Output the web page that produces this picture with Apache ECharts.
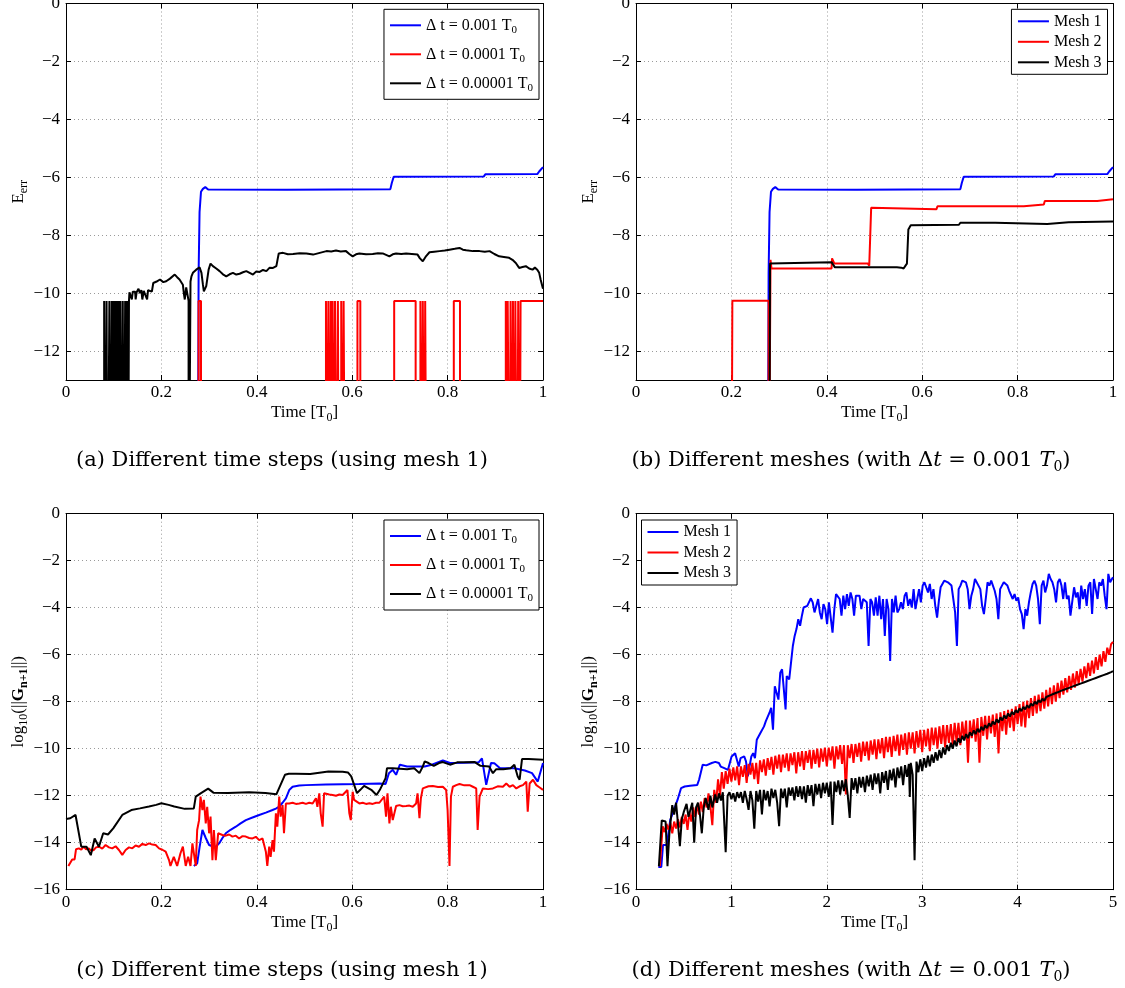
<!DOCTYPE html>
<html>
<head>
<meta charset="utf-8">
<script src="https://cdn.jsdelivr.net/npm/echarts@6/dist/echarts.min.js"></script>
<style>
  html, body { margin: 0; padding: 0; background: #fff; }
  #chart { width: 1125px; height: 988px; }
</style>
</head>
<body>
<div id="chart"></div>
<script>
// ---------- tick values ----------
const timeTicksShort = [0, 0.2, 0.4, 0.6, 0.8, 1];
const timeTicksLong = [0, 1, 2, 3, 4, 5];
const errTicks = [0, -2, -4, -6, -8, -10, -12];
const residualTicks = [0, -2, -4, -6, -8, -10, -12, -14, -16];

// ---------- legend entries and captions ----------
const stepLabels = ['Δ t = 0.001 T0', 'Δ t = 0.0001 T0', 'Δ t = 0.00001 T0'];
const meshLabels = ['Mesh 1', 'Mesh 2', 'Mesh 3'];
const captions = [
  '(a) Different time steps (using mesh 1)',
  '(b) Different meshes (with Δ{it|t} = 0.001 {it|T}{sub|0})',
  '(c) Different time steps (using mesh 1)',
  '(d) Different meshes (with Δ{it|t} = 0.001 {it|T}{sub|0})'
];

// ---------- (a) energy error, mesh 1, three time steps ----------
// -20 stands for an error below the plotted floor (log of zero)
const errStep001 = [[0,-20],[0.276,-20],[0.278,-9.3],[0.28,-7.2],[0.283,-6.5],[0.287,-6.4],[0.292,-6.34],[0.298,-6.42],[0.463,-6.43],[0.466,-6.41],[0.68,-6.41],[0.683,-6.2],[0.687,-5.98],[0.876,-5.97],[0.879,-5.9],[0.988,-5.89],[0.992,-5.8],[0.996,-5.78],[1.0,-5.65]];

const errStep0001 = [[0,-20],[0.278,-20],[0.278,-10.27],[0.283,-10.27],[0.283,-20],
  [0.545,-20],[0.545,-10.27],[0.548,-10.27],[0.548,-20],[0.550,-20],[0.550,-10.27],[0.553,-10.27],[0.553,-20],
  [0.555,-20],[0.555,-10.27],[0.557,-10.27],[0.557,-20],[0.559,-20],[0.559,-10.27],[0.562,-10.27],[0.562,-20],
  [0.564,-20],[0.564,-10.27],[0.568,-10.27],[0.568,-20],[0.570,-20],[0.570,-10.27],[0.572,-10.27],[0.572,-20],
  [0.577,-20],[0.577,-10.27],[0.580,-10.27],[0.580,-20],[0.582,-20],[0.582,-10.27],[0.585,-10.27],[0.585,-20],
  [0.611,-20],[0.611,-10.27],[0.617,-10.27],[0.617,-20],
  [0.688,-20],[0.688,-10.27],[0.733,-10.27],[0.733,-20],
  [0.743,-20],[0.743,-10.27],[0.746,-10.27],[0.746,-20],[0.748,-20],[0.748,-10.27],[0.751,-10.27],[0.751,-20],
  [0.753,-20],[0.753,-10.27],[0.756,-10.27],[0.756,-20],
  [0.813,-20],[0.813,-10.27],[0.826,-10.27],[0.826,-20],
  [0.922,-20],[0.922,-10.27],[0.924,-10.27],[0.924,-20],[0.926,-20],[0.926,-10.27],[0.930,-10.27],[0.930,-20],
  [0.932,-20],[0.932,-10.27],[0.935,-10.27],[0.935,-20],[0.937,-20],[0.937,-10.27],[0.940,-10.27],[0.940,-20],
  [0.942,-20],[0.942,-10.27],[0.946,-10.27],[0.946,-20],[0.948,-20],[0.948,-10.27],[0.951,-10.27],[0.951,-20],
  [0.953,-20],[0.953,-10.27],[1.0,-10.27]];

const errStep00001 = [[0,-20],[0.080,-20],[0.080,-10.27],[0.082,-10.27],[0.082,-20],[0.085,-20],[0.085,-10.27],[0.087,-10.27],[0.087,-20],
  [0.091,-20],[0.091,-10.27],[0.093,-10.27],[0.093,-20],[0.096,-20],[0.096,-10.27],[0.098,-10.27],[0.098,-20],
  [0.100,-20],[0.100,-10.27],[0.102,-10.27],[0.102,-20],[0.103,-20],[0.103,-10.27],[0.105,-10.27],[0.105,-20],
  [0.107,-20],[0.107,-10.27],[0.109,-10.27],[0.109,-20],[0.110,-20],[0.110,-10.27],[0.112,-10.27],[0.112,-20],
  [0.114,-20],[0.114,-10.27],[0.116,-10.27],[0.116,-20],[0.119,-20],[0.119,-10.27],[0.121,-10.27],[0.121,-20],
  [0.124,-20],[0.124,-10.27],[0.126,-10.27],[0.126,-20],[0.128,-20],[0.128,-10.27],[0.130,-10.27],[0.130,-20],
  [0.132,-20],[0.132,-10.27],[0.133,-9.97],[0.137,-9.97],[0.138,-10.22],[0.140,-9.95],[0.145,-9.95],[0.146,-10.22],
  [0.148,-9.97],[0.152,-9.85],[0.155,-10.0],[0.158,-9.9],[0.160,-10.22],[0.163,-9.92],[0.167,-9.95],[0.170,-10.22],
  [0.172,-9.9],[0.176,-9.95],[0.180,-9.95],[0.183,-9.65],[0.190,-9.6],[0.197,-9.53],[0.204,-9.62],[0.210,-9.59],
  [0.218,-9.5],[0.228,-9.36],[0.233,-9.45],[0.238,-9.53],[0.245,-9.71],[0.247,-10.0],[0.249,-10.22],[0.252,-9.8],
  [0.256,-9.76],[0.257,-10.27],[0.257,-20],[0.261,-20],[0.261,-9.6],[0.263,-9.42],[0.266,-9.30],[0.273,-9.19],
  [0.280,-9.11],[0.284,-9.30],[0.287,-9.7],[0.289,-9.94],[0.294,-9.76],[0.299,-9.19],[0.303,-8.98],[0.308,-9.07],
  [0.315,-9.15],[0.322,-9.24],[0.329,-9.35],[0.336,-9.42],[0.343,-9.35],[0.350,-9.30],[0.357,-9.36],[0.364,-9.33],
  [0.371,-9.28],[0.378,-9.24],[0.385,-9.3],[0.392,-9.36],[0.399,-9.25],[0.406,-9.27],[0.413,-9.2],[0.420,-9.24],
  [0.427,-9.12],[0.434,-9.13],[0.441,-9.07],[0.444,-8.8],[0.446,-8.63],[0.455,-8.61],[0.465,-8.66],[0.476,-8.65],
  [0.490,-8.62],[0.504,-8.63],[0.518,-8.67],[0.532,-8.61],[0.546,-8.55],[0.556,-8.56],[0.566,-8.53],[0.576,-8.56],
  [0.587,-8.55],[0.594,-8.65],[0.601,-8.73],[0.608,-8.66],[0.615,-8.63],[0.629,-8.66],[0.643,-8.65],[0.654,-8.62],
  [0.664,-8.63],[0.671,-8.68],[0.678,-8.73],[0.685,-8.66],[0.692,-8.63],[0.703,-8.65],[0.713,-8.63],[0.725,-8.65],
  [0.737,-8.67],[0.742,-8.8],[0.748,-8.90],[0.755,-8.72],[0.762,-8.59],[0.772,-8.57],[0.783,-8.55],[0.794,-8.53],
  [0.804,-8.50],[0.815,-8.47],[0.825,-8.44],[0.832,-8.5],[0.839,-8.52],[0.853,-8.55],[0.867,-8.55],[0.878,-8.57],
  [0.888,-8.55],[0.898,-8.65],[0.908,-8.73],[0.918,-8.75],[0.929,-8.78],[0.936,-8.85],[0.943,-8.96],[0.950,-9.13],
  [0.957,-9.1],[0.964,-9.07],[0.971,-9.15],[0.978,-9.19],[0.983,-9.12],[0.988,-9.19],[0.992,-9.3],[0.995,-9.53],
  [0.999,-9.79],[1.0,-9.85]];

// ---------- (b) energy error, Δt = 0.001 T0, three meshes ----------
// mesh 1 at Δt = 0.001 T0 is the same run as the blue curve of (a)
const errMesh1 = errStep001;
const errMesh2 = [[0,-20],[0.2,-20],[0.202,-10.26],[0.278,-10.26],[0.278,-20],[0.281,-20],[0.282,-8.85],[0.284,-9.15],
  [0.41,-9.15],[0.411,-8.8],[0.414,-8.8],[0.416,-8.98],[0.486,-8.98],[0.489,-9.05],[0.491,-9.05],[0.493,-7.05],
  [0.497,-7.1],[0.63,-7.1],[0.632,-7.0],[0.813,-7.0],[0.815,-6.94],[0.855,-6.94],[0.857,-6.82],[0.967,-6.82],
  [0.969,-6.76],[1.0,-6.76]];
const errMesh3 = [[0,-20],[0.279,-20],[0.281,-8.98],[0.41,-8.93],[0.413,-8.98],[0.417,-9.11],[0.547,-9.11],[0.556,-9.12],
  [0.561,-9.15],[0.565,-9.05],[0.568,-8.98],[0.571,-7.8],[0.576,-7.66],[0.579,-7.64],[0.677,-7.64],[0.68,-7.57],
  [0.753,-7.57],[0.756,-7.61],[0.862,-7.61],[0.865,-7.55],[0.907,-7.55],[0.91,-7.53],[1.0,-7.53]];

// ---------- (c) residual norm, mesh 1, three time steps ----------
const resStep001 = [[0.268,-14.99],[0.275,-14.88],[0.280,-14.2],[0.286,-13.46],[0.293,-13.8],[0.300,-14.10],[0.307,-14.15],
  [0.314,-14.17],[0.321,-14.03],[0.328,-13.8],[0.335,-13.60],[0.345,-13.45],[0.356,-13.32],[0.366,-13.18],[0.377,-13.04],
  [0.391,-12.93],[0.405,-12.82],[0.419,-12.72],[0.433,-12.61],[0.440,-12.55],[0.447,-12.47],[0.454,-12.3],[0.461,-12.11],
  [0.468,-11.76],[0.475,-11.62],[0.489,-11.57],[0.503,-11.55],[0.545,-11.52],[0.580,-11.51],[0.615,-11.50],[0.657,-11.48],
  [0.670,-11.50],[0.677,-11.04],[0.685,-10.90],[0.692,-11.11],[0.700,-10.68],[0.715,-10.76],[0.752,-10.76],[0.767,-10.68],
  [0.790,-10.50],[0.805,-10.61],[0.835,-10.6],[0.865,-10.58],[0.872,-10.41],[0.881,-11.54],[0.891,-10.61],[0.898,-10.62],
  [0.910,-10.83],[0.940,-10.83],[0.962,-10.93],[0.977,-11.04],[0.989,-11.40],[1.0,-10.61]];

const resStep0001 = [[0.005,-14.99],[0.013,-14.71],[0.018,-14.71],[0.021,-14.28],[0.027,-14.24],[0.032,-14.3],[0.037,-14.17],
  [0.042,-14.28],[0.048,-14.24],[0.053,-14.35],[0.058,-14.31],[0.063,-14.2],[0.069,-14.17],[0.076,-14.25],[0.083,-14.10],
  [0.090,-14.2],[0.097,-14.24],[0.104,-14.15],[0.111,-14.31],[0.118,-14.52],[0.125,-14.31],[0.132,-14.2],[0.139,-14.24],
  [0.146,-14.12],[0.153,-14.17],[0.160,-14.05],[0.167,-14.10],[0.174,-14.03],[0.181,-14.08],[0.188,-14.10],[0.195,-14.24],
  [0.202,-14.3],[0.209,-14.38],[0.216,-14.74],[0.219,-14.99],[0.226,-14.60],[0.233,-14.99],[0.240,-14.45],[0.245,-14.17],
  [0.251,-14.99],[0.256,-14.60],[0.261,-14.99],[0.265,-14.03],[0.272,-14.99],[0.275,-13.46],[0.279,-13.04],[0.282,-12.04],
  [0.286,-12.61],[0.289,-12.18],[0.293,-13.18],[0.296,-12.47],[0.300,-13.60],[0.303,-12.89],[0.307,-14.74],[0.310,-13.46],
  [0.314,-14.74],[0.319,-13.60],[0.328,-13.67],[0.335,-13.7],[0.342,-13.65],[0.349,-13.74],[0.356,-13.7],[0.363,-13.82],
  [0.370,-13.72],[0.377,-13.74],[0.384,-13.8],[0.391,-13.82],[0.398,-13.75],[0.405,-13.89],[0.412,-13.82],[0.419,-14.38],
  [0.422,-14.99],[0.426,-14.17],[0.429,-14.60],[0.433,-13.89],[0.436,-14.38],[0.440,-12.75],[0.443,-13.32],[0.447,-12.04],
  [0.450,-12.89],[0.454,-12.40],[0.457,-13.60],[0.461,-12.33],[0.468,-12.33],[0.475,-12.3],[0.482,-12.35],[0.489,-12.33],
  [0.496,-12.3],[0.503,-12.35],[0.510,-12.3],[0.517,-12.33],[0.524,-12.11],[0.527,-12.47],[0.531,-11.90],[0.534,-12.75],
  [0.538,-13.32],[0.541,-11.90],[0.545,-11.97],[0.552,-11.95],[0.559,-11.97],[0.566,-12.0],[0.573,-11.95],[0.580,-11.97],
  [0.590,-11.76],[0.594,-12.75],[0.597,-13.04],[0.601,-11.83],[0.604,-12.18],[0.615,-12.33],[0.622,-12.3],[0.629,-12.35],
  [0.636,-12.32],[0.643,-12.35],[0.650,-12.3],[0.657,-12.30],[0.667,-12.04],[0.671,-12.89],[0.674,-11.90],[0.678,-13.18],
  [0.681,-12.47],[0.685,-13.04],[0.692,-12.44],[0.699,-12.4],[0.706,-12.45],[0.713,-12.44],[0.720,-12.42],[0.727,-12.47],
  [0.734,-12.33],[0.737,-11.90],[0.741,-12.96],[0.744,-12.11],[0.748,-11.69],[0.751,-11.62],[0.760,-11.6],[0.769,-11.59],
  [0.780,-11.63],[0.790,-11.62],[0.797,-11.76],[0.800,-12.61],[0.804,-14.99],[0.807,-12.04],[0.811,-11.62],[0.818,-11.55],
  [0.825,-11.50],[0.835,-11.56],[0.846,-11.55],[0.853,-11.62],[0.860,-11.69],[0.863,-13.46],[0.867,-12.04],[0.874,-11.69],
  [0.885,-11.72],[0.895,-11.69],[0.905,-11.6],[0.916,-11.62],[0.923,-11.48],[0.930,-11.62],[0.937,-11.55],[0.944,-11.69],
  [0.951,-11.6],[0.958,-11.55],[0.965,-11.40],[0.968,-12.68],[0.972,-11.48],[0.979,-11.32],[0.986,-11.55],[0.993,-11.65],
  [1.0,-11.75]];

const resStep00001 = [[0,-12.99],[0.009,-12.96],[0.020,-12.82],[0.032,-14.17],[0.043,-14.17],[0.052,-14.53],[0.060,-13.82],
  [0.069,-14.17],[0.078,-13.60],[0.088,-13.65],[0.099,-13.39],[0.118,-12.82],[0.137,-12.61],[0.155,-12.54],[0.174,-12.46],
  [0.189,-12.39],[0.200,-12.32],[0.215,-12.39],[0.227,-12.46],[0.249,-12.56],[0.268,-12.54],[0.272,-12.04],[0.283,-11.89],
  [0.298,-11.70],[0.309,-11.87],[0.339,-11.89],[0.384,-11.85],[0.418,-11.89],[0.441,-11.94],[0.459,-11.11],[0.467,-11.07],
  [0.482,-11.07],[0.512,-11.08],[0.535,-11.01],[0.550,-10.97],[0.580,-10.98],[0.591,-11.01],[0.598,-11.18],[0.610,-11.89],
  [0.617,-11.75],[0.625,-11.58],[0.640,-11.75],[0.651,-11.97],[0.658,-11.75],[0.670,-11.25],[0.673,-10.83],[0.685,-10.83],
  [0.715,-10.87],[0.730,-10.83],[0.741,-11.04],[0.748,-10.76],[0.752,-10.54],[0.760,-10.61],[0.771,-10.73],[0.782,-10.61],
  [0.790,-10.57],[0.805,-10.68],[0.820,-10.58],[0.835,-10.58],[0.857,-10.57],[0.869,-10.73],[0.887,-10.76],[0.895,-11.04],
  [0.902,-10.87],[0.917,-10.87],[0.932,-10.83],[0.940,-10.68],[0.947,-11.18],[0.951,-11.32],[0.956,-10.44],[0.970,-10.44],
  [1.0,-10.47]];

// ---------- (d) residual norm, Δt = 0.001 T0, three meshes ----------
const resMesh1 = [[0.234,-15.03],[0.265,-15.03],[0.283,-14.10],[0.321,-14.10],[0.340,-13.60],[0.359,-13.03],[0.397,-12.61],
  [0.435,-12.18],[0.472,-11.68],[0.510,-11.61],[0.567,-11.58],[0.642,-11.54],[0.661,-11.32],[0.699,-10.68],[0.737,-10.71],
  [0.794,-10.61],[0.831,-10.56],[0.869,-10.61],[0.888,-10.76],[0.926,-10.83],[0.964,-10.90],[1.002,-10.33],[1.039,-10.19],
  [1.058,-10.26],[1.077,-10.76],[1.096,-10.40],[1.134,-10.33],[1.153,-10.54],[1.172,-11.18],[1.190,-10.76],[1.209,-10.33],
  [1.228,-10.19],[1.247,-10.40],[1.266,-9.62],[1.304,-9.33],[1.342,-9.05],[1.361,-8.83],[1.398,-8.48],[1.417,-8.26],
  [1.436,-9.19],[1.455,-7.34],[1.474,-7.27],[1.493,-7.91],[1.512,-6.77],[1.531,-6.62],[1.550,-6.70],[1.568,-8.33],
  [1.580,-6.91],[1.606,-7.05],[1.625,-6.34],[1.644,-5.63],[1.663,-5.20],[1.682,-4.91],[1.701,-4.49],[1.720,-4.77],
  [1.739,-4.34],[1.757,-3.99],[1.795,-3.92],[1.814,-3.85],[1.833,-3.60],[1.852,-3.77],[1.871,-4.20],[1.890,-4.13],
  [1.909,-3.63],[1.927,-4.20],[1.946,-4.49],[1.965,-3.85],[1.984,-4.06],[2.003,-4.70],[2.022,-3.77],[2.041,-3.70],
  [2.060,-5.06],[2.079,-4.06],[2.097,-3.42],[2.116,-3.49],[2.135,-3.63],[2.154,-4.34],[2.173,-3.49],[2.192,-4.06],
  [2.211,-3.42],[2.230,-3.92],[2.249,-3.35],[2.268,-3.63],[2.286,-4.34],[2.305,-3.49],[2.343,-3.49],[2.362,-4.06],
  [2.381,-3.63],[2.400,-3.56],[2.419,-3.77],[2.438,-5.63],[2.457,-3.63],[2.475,-3.77],[2.494,-4.34],[2.513,-3.56],
  [2.532,-4.34],[2.551,-3.49],[2.570,-4.49],[2.589,-3.63],[2.608,-5.20],[2.627,-3.63],[2.646,-4.06],[2.664,-6.27],
  [2.683,-3.63],[2.702,-4.20],[2.721,-3.49],[2.740,-4.20],[2.759,-4.06],[2.778,-3.77],[2.797,-4.06],[2.816,-3.49],
  [2.834,-3.35],[2.853,-3.92],[2.872,-3.63],[2.891,-3.99],[2.910,-3.21],[2.929,-4.06],[2.948,-3.63],[2.967,-3.21],
  [2.986,-3.77],[3.005,-3.06],[3.023,-2.92],[3.042,-3.13],[3.061,-3.35],[3.080,-2.99],[3.099,-3.63],[3.118,-3.21],
  [3.137,-3.92],[3.156,-4.42],[3.175,-3.70],[3.193,-3.13],[3.212,-3.06],[3.231,-2.85],[3.250,-2.78],[3.269,-2.92],
  [3.288,-2.85],[3.307,-3.06],[3.326,-3.63],[3.345,-4.20],[3.364,-5.63],[3.382,-3.21],[3.401,-3.06],[3.420,-2.85],
  [3.439,-2.78],[3.458,-2.92],[3.477,-3.21],[3.496,-4.06],[3.515,-3.49],[3.534,-3.21],[3.553,-2.78],[3.571,-2.85],
  [3.590,-3.06],[3.609,-3.21],[3.628,-3.92],[3.647,-4.27],[3.666,-3.63],[3.685,-2.92],[3.704,-3.06],[3.723,-2.85],
  [3.741,-2.78],[3.760,-3.28],[3.779,-3.63],[3.798,-4.49],[3.817,-3.21],[3.836,-3.06],[3.855,-2.92],[3.874,-2.85],
  [3.893,-3.06],[3.912,-3.28],[3.930,-3.35],[3.949,-3.63],[3.968,-3.42],[3.987,-3.70],[4.006,-3.56],[4.025,-4.06],
  [4.044,-4.27],[4.063,-4.91],[4.082,-4.06],[4.100,-4.34],[4.119,-3.77],[4.138,-3.35],[4.157,-2.99],[4.176,-2.85],
  [4.195,-3.06],[4.214,-3.63],[4.233,-4.70],[4.252,-3.06],[4.271,-2.85],[4.289,-3.35],[4.308,-3.06],[4.327,-2.56],
  [4.346,-2.78],[4.365,-2.92],[4.384,-3.21],[4.403,-3.77],[4.422,-2.92],[4.441,-2.78],[4.460,-3.06],[4.478,-3.63],
  [4.497,-2.92],[4.516,-3.63],[4.535,-3.49],[4.554,-4.34],[4.573,-4.42],[4.592,-3.13],[4.611,-3.56],[4.630,-3.35],
  [4.649,-4.06],[4.667,-3.06],[4.686,-3.63],[4.705,-3.21],[4.724,-3.92],[4.743,-3.06],[4.762,-2.92],[4.781,-4.27],
  [4.800,-2.78],[4.819,-3.21],[4.838,-3.63],[4.856,-2.92],[4.875,-3.06],[4.894,-2.78],[4.913,-3.49],[4.932,-4.06],
  [4.951,-2.56],[4.970,-2.92],[4.989,-2.78],[5.0,-2.7]];

const resMesh2 = [[0.25,-15.0],[0.27,-15.0],[0.28,-13.3],[0.30,-13.55],[0.32,-13.2],[0.34,-13.45],[0.36,-13.15],[0.38,-13.6],
  [0.40,-13.1],[0.42,-13.4],[0.44,-13.0],[0.46,-13.35],[0.48,-12.9],[0.50,-13.2],[0.52,-12.8],[0.54,-13.45],[0.56,-12.7],
  [0.58,-13.1],[0.60,-12.5],[0.62,-12.9],[0.64,-12.4],[0.66,-12.8],[0.68,-12.25],[0.70,-12.7],[0.72,-12.1],[0.74,-12.5],
  [0.76,-11.9],[0.78,-12.45],[0.80,-13.25],[0.82,-11.75],[0.84,-12.3],[0.86,-11.3],[0.88,-12.0],
  [0.90,-11.0],[0.92,-11.7],[0.94,-10.95],[0.96,-11.5],[0.98,-10.85],[1.00,-11.4],[1.02,-10.8],[1.04,-11.35],[1.06,-10.75],
  [1.08,-11.55],[1.10,-10.75],[1.12,-11.2],[1.14,-10.7],[1.16,-11.45],[1.18,-10.65],[1.20,-11.1],[1.22,-10.6],[1.24,-11.3],
  [1.26,-10.6],[1.28,-11.5],[1.30,-10.5],[1.32,-11.0],[1.34,-10.45],[1.36,-11.15],[1.38,-10.4],[1.40,-10.9],[1.42,-10.35],
  [1.44,-11.1],[1.46,-10.3],[1.48,-10.85],[1.50,-10.25],[1.52,-11.0],[1.54,-10.25],[1.56,-10.8],[1.58,-10.2],[1.60,-10.95],
  [1.62,-10.2],[1.64,-10.7],[1.66,-10.15],[1.68,-11.05],[1.70,-10.15],[1.72,-10.75],[1.74,-10.1],[1.76,-10.9],[1.78,-10.1],
  [1.80,-10.6],[1.82,-10.05],[1.84,-10.85],[1.86,-10.05],[1.88,-10.65],[1.90,-10.0],[1.92,-10.8],[1.94,-10.0],[1.96,-10.55],
  [1.98,-9.95],[2.00,-10.75],[2.02,-9.95],[2.04,-10.5],[2.06,-9.9],[2.08,-10.85],[2.10,-9.9],[2.12,-10.45],[2.14,-9.85],
  [2.16,-10.65],[2.18,-9.85],[2.20,-11.95],[2.22,-9.85],[2.24,-10.4],[2.26,-9.8],[2.28,-10.6],[2.30,-9.8],[2.32,-10.35],
  [2.34,-9.75],[2.36,-10.55],[2.38,-9.7],[2.40,-10.3],[2.42,-9.7],[2.44,-10.5],[2.46,-9.65],[2.48,-10.25],[2.50,-9.6],
  [2.52,-10.45],[2.54,-9.6],[2.56,-10.2],[2.58,-9.55],[2.60,-10.4],[2.62,-9.5],[2.64,-10.15],[2.66,-9.5],[2.68,-10.35],
  [2.70,-9.45],[2.72,-10.1],[2.74,-9.4],[2.76,-10.3],[2.78,-9.4],[2.80,-10.05],[2.82,-9.35],[2.84,-10.25],[2.86,-9.3],
  [2.88,-10.0],[2.90,-9.3],[2.92,-10.2],[2.94,-9.25],[2.96,-9.95],[2.98,-9.2],[3.00,-10.15],[3.02,-9.2],[3.04,-9.9],
  [3.06,-9.15],[3.08,-10.1],[3.10,-9.1],[3.12,-9.85],[3.14,-9.1],[3.16,-10.0],[3.18,-9.05],[3.20,-9.8],[3.22,-9.0],
  [3.24,-9.95],[3.26,-9.0],[3.28,-9.75],[3.30,-8.95],[3.32,-9.9],[3.34,-8.9],[3.36,-9.7],[3.38,-8.9],[3.40,-9.85],
  [3.42,-8.85],[3.44,-9.6],[3.46,-8.8],[3.48,-10.6],[3.50,-8.8],[3.52,-9.55],[3.54,-8.75],[3.56,-9.7],[3.58,-8.7],
  [3.60,-10.6],[3.62,-8.65],[3.64,-9.45],[3.66,-8.6],[3.68,-9.6],[3.70,-8.6],[3.72,-9.35],[3.74,-8.55],[3.76,-9.5],
  [3.78,-8.5],[3.80,-10.2],[3.82,-8.45],[3.84,-9.25],[3.86,-8.4],[3.88,-9.4],[3.90,-8.35],[3.92,-9.1],[3.94,-8.3],
  [3.96,-9.25],[3.98,-8.2],[4.00,-8.95],[4.02,-8.1],[4.04,-9.05],[4.06,-8.0],[4.08,-9.1],[4.10,-7.95],[4.12,-8.7],
  [4.14,-7.85],[4.16,-8.6],[4.18,-7.75],[4.20,-8.5],[4.22,-7.7],[4.24,-8.4],[4.26,-7.6],[4.28,-8.3],[4.30,-7.5],
  [4.32,-8.2],[4.34,-7.4],[4.36,-8.1],[4.38,-7.3],[4.40,-8.0],[4.42,-7.2],[4.44,-7.85],[4.46,-7.1],[4.48,-7.7],
  [4.50,-7.0],[4.52,-7.6],[4.54,-6.9],[4.56,-7.5],[4.58,-6.8],[4.60,-7.4],[4.62,-6.7],[4.64,-7.25],[4.66,-6.6],
  [4.68,-7.15],[4.70,-6.5],[4.72,-7.0],[4.74,-6.35],[4.76,-6.9],[4.78,-6.25],[4.80,-6.8],[4.82,-6.1],[4.84,-6.65],
  [4.86,-6.0],[4.88,-6.5],[4.90,-5.85],[4.92,-6.3],[4.94,-5.7],[4.96,-6.0],[4.98,-5.55],[5.00,-5.45]];

const resMesh3 = [[0.24,-15.0],[0.26,-15.0],[0.27,-13.05],[0.29,-13.0],[0.31,-13.1],[0.33,-15.0],[0.35,-13.6],[0.38,-12.4],
  [0.40,-12.8],[0.42,-12.3],[0.44,-13.2],[0.46,-14.15],[0.48,-13.0],[0.50,-12.7],[0.53,-12.35],[0.55,-12.9],[0.57,-12.6],
  [0.59,-12.3],[0.61,-14.0],[0.63,-12.5],[0.65,-12.3],[0.67,-12.8],[0.69,-13.6],[0.71,-12.5],[0.73,-12.1],[0.76,-12.6],
  [0.78,-12.0],[0.80,-12.5],[0.83,-11.95],[0.85,-12.3],[0.87,-11.9],[0.89,-12.2],[0.91,-11.85],[0.94,-14.4],
  [0.96,-12.0],[0.98,-11.85],[1.00,-12.15],[1.02,-11.9],[1.04,-12.25],[1.06,-11.85],[1.08,-12.1],[1.10,-11.85],[1.12,-12.3],
  [1.14,-11.8],[1.16,-12.15],[1.18,-12.6],[1.20,-11.8],[1.22,-12.2],[1.24,-13.4],[1.26,-11.8],[1.28,-12.25],[1.30,-11.75],
  [1.32,-12.8],[1.34,-11.75],[1.36,-12.2],[1.38,-11.8],[1.40,-12.45],[1.42,-11.7],[1.44,-12.1],[1.46,-11.75],[1.48,-12.3],
  [1.50,-13.3],[1.52,-11.7],[1.54,-12.1],[1.56,-11.7],[1.58,-12.5],[1.60,-11.65],[1.62,-12.0],[1.64,-11.65],[1.66,-12.2],
  [1.68,-11.6],[1.70,-12.05],[1.72,-11.6],[1.74,-12.15],[1.76,-11.6],[1.78,-12.3],[1.80,-11.55],[1.82,-12.0],[1.84,-11.55],
  [1.86,-12.45],[1.88,-11.5],[1.90,-11.95],[1.92,-11.5],[1.94,-12.1],[1.96,-11.45],[1.98,-11.9],[2.00,-11.45],[2.02,-12.05],
  [2.04,-11.4],[2.06,-13.25],[2.08,-11.4],[2.10,-11.85],[2.12,-11.35],[2.14,-11.95],[2.16,-11.35],[2.18,-11.8],[2.20,-11.3],
  [2.22,-12.0],[2.24,-12.95],[2.26,-11.25],[2.28,-11.75],[2.30,-11.25],[2.32,-11.9],[2.34,-11.2],[2.36,-11.65],[2.38,-11.2],
  [2.40,-11.85],[2.42,-11.15],[2.44,-11.6],[2.46,-11.1],[2.48,-11.75],[2.50,-11.05],[2.52,-11.5],[2.54,-11.05],[2.56,-11.9],
  [2.58,-11.0],[2.60,-11.45],[2.62,-10.95],[2.64,-11.75],[2.66,-10.9],[2.68,-11.35],[2.70,-10.85],[2.72,-11.65],[2.74,-10.8],
  [2.76,-11.25],[2.78,-10.75],[2.80,-11.55],[2.82,-10.7],[2.84,-11.2],[2.86,-10.65],[2.87,-12.05],[2.88,-10.6],[2.90,-11.1],
  [2.92,-14.75],[2.94,-10.55],[2.96,-11.0],[2.98,-10.45],[3.00,-10.95],[3.02,-10.4],[3.04,-10.8],[3.06,-10.3],[3.08,-10.75],
  [3.10,-10.25],[3.12,-10.6],[3.14,-10.15],[3.16,-10.5],[3.18,-10.05],[3.20,-10.4],[3.22,-9.95],[3.24,-10.25],[3.26,-9.85],
  [3.28,-10.1],[3.30,-9.75],[3.32,-10.0],[3.34,-9.65],[3.36,-9.9],[3.38,-9.55],[3.40,-9.75],[3.42,-9.45],[3.44,-9.65],
  [3.46,-9.38],[3.48,-9.55],[3.50,-9.3],[3.52,-9.45],[3.54,-9.22],[3.56,-9.38],[3.58,-9.15],[3.60,-9.3],[3.62,-9.07],
  [3.64,-9.22],[3.66,-9.0],[3.68,-9.13],[3.70,-8.92],[3.72,-9.05],[3.74,-8.84],[3.76,-8.97],[3.78,-8.75],[3.80,-8.9],
  [3.82,-8.66],[3.84,-8.8],[3.86,-8.58],[3.88,-8.72],[3.90,-8.5],[3.92,-8.63],[3.94,-8.43],[3.96,-8.55],[3.98,-8.36],
  [4.00,-8.47],[4.02,-8.28],[4.04,-8.4],[4.06,-8.22],[4.08,-8.33],[4.10,-8.15],[4.12,-8.26],[4.14,-8.08],[4.16,-8.18],
  [4.18,-8.0],[4.20,-8.1],[4.22,-7.94],[4.24,-8.03],[4.26,-7.87],[4.28,-7.96],[4.30,-7.8],[4.32,-7.88],[4.34,-7.73],
  [4.36,-7.8],[4.38,-7.66],[4.40,-7.73],[4.42,-7.6],[4.44,-7.66],[4.46,-7.53],[4.48,-7.59],[4.50,-7.47],[4.52,-7.53],
  [4.54,-7.41],[4.56,-7.46],[4.58,-7.35],[4.60,-7.4],[4.62,-7.29],[4.64,-7.34],[4.66,-7.23],[4.68,-7.27],[4.70,-7.17],
  [4.72,-7.21],[4.74,-7.11],[4.76,-7.14],[4.78,-7.05],[4.80,-7.08],[4.82,-6.99],[4.84,-7.02],[4.86,-6.93],[4.88,-6.96],
  [4.90,-6.87],[4.92,-6.89],[4.94,-6.81],[4.96,-6.82],[4.98,-6.74],[5.00,-6.7]];

// ---------- styling ----------
const FONT = 'Liberation Serif';
const CAPTION_FONT = 'DejaVu Serif';
const BLUE = '#0000ff', RED = '#ff0000', BLACK = '#000000';
const minusFmt = v => (v < 0 ? '\u2212' : '') + Math.abs(v);

const subRich = {
  sub: { fontFamily: FONT, fontSize: 12, lineHeight: 12, verticalAlign: 'bottom', color: '#000' },
  b: { fontFamily: FONT, fontSize: 17, fontWeight: 'bold', lineHeight: 22, color: '#000' },
  bsub: { fontFamily: FONT, fontSize: 12, fontWeight: 'bold', lineHeight: 12, verticalAlign: 'bottom', color: '#000' }
};

const panels = [
  { grid: { left: 66, top: 3.5, width: 477, height: 376.5 }, xMin: 0, xMax: 1, xTicks: timeTicksShort,
    yMin: -13, yMax: 0, yTicks: errTicks, yName: 'E{sub|err}', yGap: 35,
    lines: [[stepLabels[0], BLUE, errStep001], [stepLabels[1], RED, errStep0001], [stepLabels[2], BLACK, errStep00001]] },
  { grid: { left: 636, top: 3.5, width: 477, height: 376.5 }, xMin: 0, xMax: 1, xTicks: timeTicksShort,
    yMin: -13, yMax: 0, yTicks: errTicks, yName: 'E{sub|err}', yGap: 35,
    lines: [[meshLabels[0], BLUE, errMesh1], [meshLabels[1], RED, errMesh2], [meshLabels[2], BLACK, errMesh3]] },
  { grid: { left: 66, top: 513.7, width: 477, height: 376 }, xMin: 0, xMax: 1, xTicks: timeTicksShort,
    yMin: -16, yMax: 0, yTicks: residualTicks, yName: 'log{sub|10}(||{b|G}{bsub|n+1}||)', yGap: 34,
    lines: [[stepLabels[0], BLUE, resStep001], [stepLabels[1], RED, resStep0001], [stepLabels[2], BLACK, resStep00001]] },
  { grid: { left: 636, top: 513.7, width: 477, height: 376 }, xMin: 0, xMax: 5, xTicks: timeTicksLong,
    yMin: -16, yMax: 0, yTicks: residualTicks, yName: 'log{sub|10}(||{b|G}{bsub|n+1}||)', yGap: 34,
    lines: [[meshLabels[0], BLUE, resMesh1], [meshLabels[1], RED, resMesh2], [meshLabels[2], BLACK, resMesh3]] }
];

const grids = [], xAxes = [], yAxes = [], series = [];
const axisLine = { show: true, onZero: false, lineStyle: { color: '#000', width: 1 } };
const gridLine = { show: true, lineStyle: { color: '#9a9a9a', width: 1, type: [1, 3] } };

panels.forEach((p, i) => {
  grids.push(Object.assign({ show: false, containLabel: false, outerBoundsMode: 'none' }, p.grid));
  const tick = vals => ({ show: true, inside: true, length: 5, customValues: vals, lineStyle: { color: '#000', width: 1 } });
  // bottom and top x axes
  xAxes.push({
    type: 'value', gridIndex: i, position: 'bottom', min: p.xMin, max: p.xMax,
    axisLine, axisTick: tick(p.xTicks), splitLine: gridLine,
    axisLabel: { customValues: p.xTicks, formatter: minusFmt, fontFamily: FONT, fontSize: 17, color: '#000', margin: 4 },
    name: 'Time [T{sub|0}]', nameLocation: 'middle', nameGap: 18,
    nameTextStyle: { fontFamily: FONT, fontSize: 17, lineHeight: 22, color: '#000', rich: subRich }
  });
  xAxes.push({
    type: 'value', gridIndex: i, position: 'top', min: p.xMin, max: p.xMax,
    axisLine, axisTick: tick(p.xTicks), splitLine: { show: false }, axisLabel: { show: false }
  });
  // left and right y axes
  yAxes.push({
    type: 'value', gridIndex: i, position: 'left', min: p.yMin, max: p.yMax,
    axisLine, axisTick: tick(p.yTicks), splitLine: gridLine,
    axisLabel: { customValues: p.yTicks, formatter: minusFmt, fontFamily: FONT, fontSize: 17, color: '#000', margin: 6 },
    name: p.yName, nameLocation: 'middle', nameGap: p.yGap, nameRotate: 90,
    nameTextStyle: { fontFamily: FONT, fontSize: 17, lineHeight: 22, color: '#000', rich: subRich }
  });
  yAxes.push({
    type: 'value', gridIndex: i, position: 'right', min: p.yMin, max: p.yMax,
    axisLine, axisTick: tick(p.yTicks), splitLine: { show: false }, axisLabel: { show: false }
  });
  p.lines.forEach(([name, color, data]) => {
    series.push({
      type: 'line', name, data, xAxisIndex: 2 * i, yAxisIndex: 2 * i,
      color, showSymbol: false, symbol: 'none', clip: true, smooth: false,
      lineStyle: { color, width: 2 }, emphasis: { disabled: true }, silent: true
    });
  });
});

const legendText = (lh) => ({
  fontFamily: FONT, fontSize: 16, lineHeight: lh, color: '#000',
  rich: { sub: { fontFamily: FONT, fontSize: 11, lineHeight: 11, verticalAlign: 'bottom', color: '#000' } }
});
const legendBase = {
  orient: 'vertical', icon: 'rect', itemWidth: 31, itemHeight: 2, selectedMode: false,
  borderColor: '#000', borderWidth: 1, backgroundColor: '#fff',
  formatter: name => name.replace(/T0$/, 'T{sub|0}')
};
const legends = [
  Object.assign({}, legendBase, { data: stepLabels, right: 586, top: 9.3, itemGap: 9, padding: [6, 6, 6, 6], textStyle: legendText(20) }),
  Object.assign({}, legendBase, { data: meshLabels, right: 17.5, top: 9.3, itemGap: 2.5, padding: [3, 6, 3, 6.5], textStyle: legendText(18) }),
  Object.assign({}, legendBase, { data: stepLabels, right: 586, top: 520, itemGap: 9, padding: [6, 6, 6, 6], textStyle: legendText(20) }),
  Object.assign({}, legendBase, { data: meshLabels, left: 641.5, top: 520, itemGap: 2.5, padding: [3, 6, 3, 6], textStyle: legendText(18) })
];

const captionRich = {
  it: { fontFamily: CAPTION_FONT, fontSize: 21, fontStyle: 'italic', lineHeight: 27, color: '#000' },
  sub: { fontFamily: CAPTION_FONT, fontSize: 14, lineHeight: 14, verticalAlign: 'bottom', color: '#000' }
};
const captionPos = [[282, 461], [851, 461], [282, 971], [851, 971]];
const titles = captions.map((text, i) => ({
  text, left: captionPos[i][0], top: captionPos[i][1], textAlign: 'center', textVerticalAlign: 'middle', padding: 0,
  textStyle: { fontFamily: CAPTION_FONT, fontSize: 21, fontWeight: 'normal', lineHeight: 27, color: '#000', rich: captionRich }
}));

const chart = echarts.init(document.getElementById('chart'), null, { renderer: 'canvas' });
chart.setOption({
  backgroundColor: '#fff',
  animation: false,
  title: titles,
  legend: legends,
  grid: grids,
  xAxis: xAxes,
  yAxis: yAxes,
  series
});
</script>
</body>
</html>
